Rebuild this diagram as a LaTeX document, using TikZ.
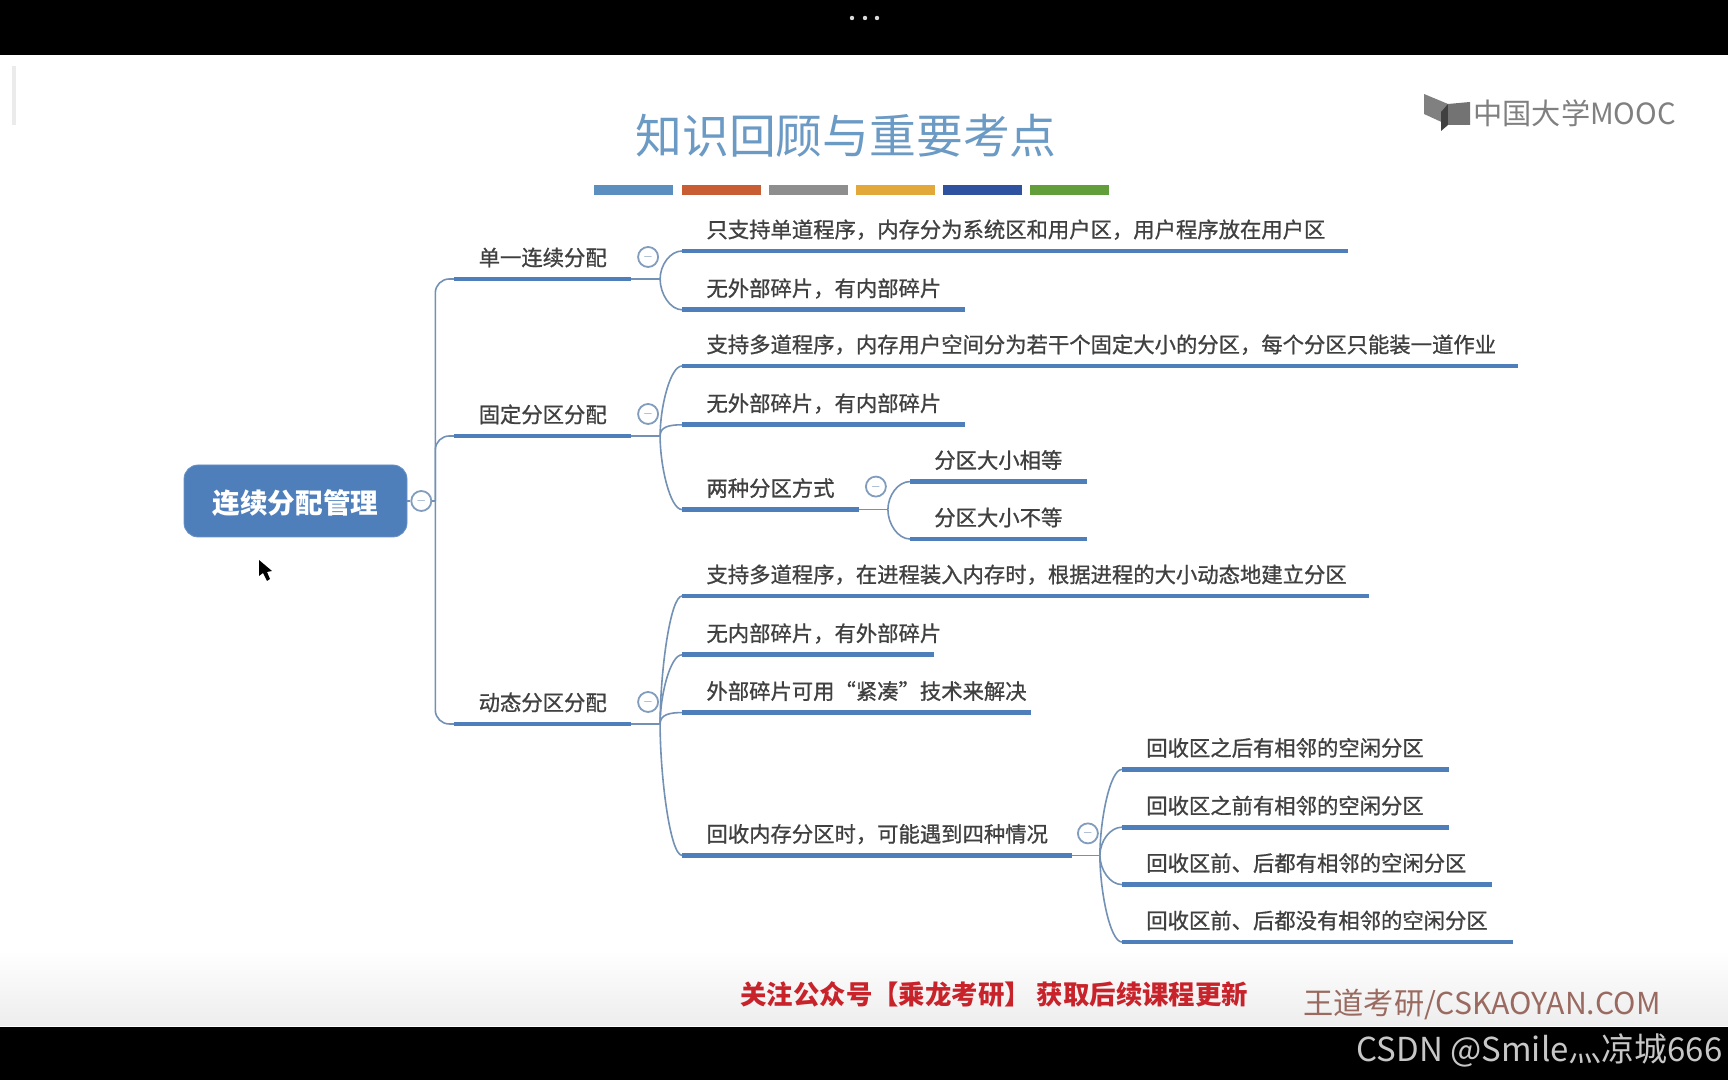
\documentclass[tikz,border=0pt]{standalone}
\usepackage{fontspec}
\setmainfont{Noto Sans CJK SC}
\newfontfamily\heavyfont[FakeBold=0.9]{Noto Sans CJK SC}
\usepackage{xcolor}
\usepackage{tikz}
\usetikzlibrary{positioning}
\definecolor{hue}{HTML}{4F7FBB}
\definecolor{thread}{HTML}{7391B5}
\definecolor{ink}{HTML}{404040}
\definecolor{headline}{HTML}{6B9AC4}
\definecolor{promo}{HTML}{C8232A}
\definecolor{brand}{HTML}{9A6A60}
\definecolor{logo}{HTML}{808080}
\definecolor{barblue}{HTML}{5A8FC0}
\definecolor{barorange}{HTML}{C85C33}
\definecolor{bargray}{HTML}{8E8E8E}
\definecolor{baryellow}{HTML}{E2A93A}
\definecolor{barnavy}{HTML}{2F52A0}
\definecolor{bargreen}{HTML}{629F3A}
\tikzset{
  rootbox/.style={draw=hue!85!white,fill=hue,rounded corners=7pt,minimum width=111.5pt,minimum height=36pt,
    text=white,font=\fontsize{13.8}{16}\selectfont\bfseries,inner sep=0pt,text height=13.4pt,text depth=1pt},
  topic/.style={inner xsep=12pt,inner ysep=4pt,text height=9.5pt,text depth=2.5pt,align=left,text=ink,
    font=\heavyfont\fontsize{10.67}{12}\selectfont},
  under/.style={draw=hue,line width=2.4pt},
  link/.style={draw=thread,line width=.8pt,in distance=6pt},
  fold/.style={circle,draw=thread!90,line width=.9pt,fill=white,minimum size=10pt,inner sep=0pt,
    text=thread,font=\fontsize{5}{5}\selectfont},
  bar/.style={minimum width=39.5pt,minimum height=5pt,inner sep=0pt}
}
\begin{document}
\begin{tikzpicture}[x=.5pt,y=.5pt]
 \useasboundingbox (0,0) rectangle (1728,1080);
 \fill[white] (0,0) rectangle (1728,1080);
 \shade[top color=white,bottom color=black!7] (0,54) rectangle (1728,130);
 \fill[black] (0,0) rectangle (1728,53);
 \fill[black] (0,1025) rectangle (1728,1080);
 \fill[black!8] (12,955) rectangle (16,1014);
 \fill[white!85!black] (852,1062) circle (2.2) (865,1062) circle (2.2) (877,1062) circle (2.2);
 \node[text=headline,font=\fontsize{23.4}{28}\selectfont] (title) at (846,944) {知识回顾与重要考点};
 \node[bar,fill=barblue,anchor=west] (bar1) at (594,890) {};
 \node[bar,fill=barorange,right=3.7pt of bar1] (bar2) {};
 \node[bar,fill=bargray,right=3.7pt of bar2] (bar3) {};
 \node[bar,fill=baryellow,right=3.7pt of bar3] (bar4) {};
 \node[bar,fill=barnavy,right=3.7pt of bar4] (bar5) {};
 \node[bar,fill=bargreen,right=3.7pt of bar5] (bar6) {};
 \fill[logo] (1424,986) -- (1448,976) -- (1448,955) -- (1424,966) -- cycle;
 \fill[logo!50!black] (1448,976) -- (1441,968) -- (1441,949) -- (1448,955) -- cycle;
 \fill[logo!90!black] (1448,976) -- (1470,978) -- (1470,955) -- (1448,955) -- cycle;
 \node[text=logo,font=\fontsize{14.6}{16}\selectfont,anchor=west,inner sep=0pt] (mooc) at (1473,967) {中国大学MOOC};

 \node[rootbox] (root) at (295.5,579) {连续分配管理};
 \node[fold,right=1.5pt of root] (rootfold) {$-$};
 \coordinate[right=7pt of rootfold.center] (hub);
 \node[topic,text width=64pt,above right=111pt and 9.5pt of hub] (one) {单一连续分配};
 \node[topic,text width=64pt,above right=32.5pt and 9.5pt of hub] (two) {固定分区分配};
 \node[topic,text width=64pt,below right=111.5pt and 9.5pt of hub,anchor=south west] (three) {动态分区分配};
 \node[fold,above right=11pt and 8.5pt of one.south east,anchor=center] (onefold) {$-$};
 \node[fold,above right=11pt and 8.5pt of two.south east,anchor=center] (twofold) {$-$};
 \node[fold,above right=11pt and 8.5pt of three.south east,anchor=center] (threefold) {$-$};

 \node[topic,text width=308.5pt,above right=14pt and 25.5pt of one.south east] (onea) {只支持单道程序，内存分为系统区和用户区，用户程序放在用户区};
 \node[topic,text width=117pt,below=9pt of onea.south west,anchor=north west] (oneb) {无外部碎片，有内部碎片};

 \node[topic,text width=393.5pt,above right=35pt and 25.5pt of two.south east] (twoa) {支持多道程序，内存用户空间分为若干个固定大小的分区，每个分区只能装一道作业};
 \node[topic,text width=117pt,below=9pt of twoa.south west,anchor=north west] (twob) {无外部碎片，有内部碎片};
 \node[topic,text width=64pt,below=22pt of twob.south west,anchor=north west] (twoc) {两种分区方式};
 \node[fold,above right=11.5pt and 8.5pt of twoc.south east,anchor=center] (twocfold) {$-$};
 \node[topic,text width=64pt,above right=14pt and 25.5pt of twoc.south east] (twoca) {分区大小相等};
 \node[topic,text width=64pt,below=8.3pt of twoca.south west,anchor=north west] (twocb) {分区大小不等};

 \node[topic,text width=319pt,above right=64pt and 25.5pt of three.south east] (threea) {支持多道程序，在进程装入内存时，根据进程的大小动态地建立分区};
 \node[topic,text width=101.5pt,below=9pt of threea.south west,anchor=north west] (threeb) {无内部碎片，有外部碎片};
 \node[topic,text width=150pt,below=8.5pt of threeb.south west,anchor=north west] (threec) {外部碎片可用“紧凑”技术来解决};
 \node[topic,text width=170.5pt,below=51pt of threec.south west,anchor=north west] (threed) {回收内存分区时，可能遇到四种情况};
 \node[fold,above right=11pt and 8pt of threed.south east,anchor=center] (threedfold) {$-$};
 \node[topic,text width=139pt,above right=43pt and 25pt of threed.south east] (threeda) {回收区之后有相邻的空闲分区};
 \node[topic,text width=139pt,below=8.5pt of threeda.south west,anchor=north west] (threedb) {回收区之前有相邻的空闲分区};
 \node[topic,text width=160.5pt,below=8.3pt of threedb.south west,anchor=north west] (threedc) {回收区前、后都有相邻的空闲分区};
 \node[topic,text width=171pt,below=8.3pt of threedc.south west,anchor=north west] (threedd) {回收区前、后都没有相邻的空闲分区};

 \draw[link] (root.east)--(rootfold); \draw[link] (rootfold)--(hub);
 \draw[link,rounded corners=7pt] (hub) |- (one.south west);
 \draw[link,rounded corners=7pt] (hub) |- (two.south west);
 \draw[link,rounded corners=7pt] (hub) |- (three.south west);
 \coordinate[right=14.5pt of one.south east] (onehub);
 \coordinate[right=14.5pt of two.south east] (twohub);
 \coordinate[right=14.5pt of three.south east] (threehub);
 \coordinate[right=14.5pt of twoc.south east] (twochub);
 \coordinate[right=14pt of threed.south east] (threedhub);
 \draw[link] (one.south east)--(onehub); \draw[link] (two.south east)--(twohub); \draw[link] (three.south east)--(threehub);
 \draw[link] (twoc.south east)--(twochub); \draw[link] (threed.south east)--(threedhub);
 \draw[link] (onehub) to[out=90,in=180] (onea.south west); \draw[link] (onehub) to[out=-90,in=180] (oneb.south west);
 \draw[link] (twohub) to[out=90,in=180] (twoa.south west); \draw[link] (twohub) to[out=90,in=180] (twob.south west);
 \draw[link] (twohub) to[out=-90,in=180] (twoc.south west);
 \draw[link] (twochub) to[out=90,in=180] (twoca.south west); \draw[link] (twochub) to[out=-90,in=180] (twocb.south west);
 \draw[link] (threehub) to[out=90,in=180] (threea.south west); \draw[link] (threehub) to[out=90,in=180] (threeb.south west);
 \draw[link] (threehub) to[out=90,in=180] (threec.south west); \draw[link] (threehub) to[out=-90,in=180] (threed.south west);
 \draw[link] (threedhub) to[out=90,in=180] (threeda.south west); \draw[link] (threedhub) to[out=90,in=180] (threedb.south west);
 \draw[link] (threedhub) to[out=-90,in=180] (threedc.south west); \draw[link] (threedhub) to[out=-90,in=180] (threedd.south west);

 \draw[under] (one.south west)--(one.south east); \draw[under] (two.south west)--(two.south east); \draw[under] (three.south west)--(three.south east);
 \draw[under] (onea.south west)--(onea.south east); \draw[under] (oneb.south west)--(oneb.south east);
 \draw[under] (twoa.south west)--(twoa.south east); \draw[under] (twob.south west)--(twob.south east); \draw[under] (twoc.south west)--(twoc.south east);
 \draw[under] (twoca.south west)--(twoca.south east); \draw[under] (twocb.south west)--(twocb.south east);
 \draw[under] (threea.south west)--(threea.south east); \draw[under] (threeb.south west)--(threeb.south east);
 \draw[under] (threec.south west)--(threec.south east); \draw[under] (threed.south west)--(threed.south east);
 \draw[under] (threeda.south west)--(threeda.south east); \draw[under] (threedb.south west)--(threedb.south east);
 \draw[under] (threedc.south west)--(threedc.south east); \draw[under] (threedd.south west)--(threedd.south east);

 \fill[black] (259,520) -- (259,504) -- (263,507) -- (267,499) -- (270,501) -- (267,508) -- (272,509) -- cycle;
 \node[text=promo,font=\fontsize{13.2}{15}\selectfont\bfseries,anchor=west,inner sep=0pt] (promo) at (740,86) {关注公众号【乘龙考研】 获取后续课程更新};
 \node[text=brand,font=\fontsize{15.1}{17}\selectfont,anchor=west,inner sep=0pt] (site) at (1303,76) {王道考研/CSKAOYAN.COM};
 \node[text=black!22,font=\fontsize{16.5}{18}\selectfont,anchor=east,inner sep=0pt] (mark) at (1723,30) {CSDN @Smile灬凉城666};
\end{tikzpicture}
\end{document}
